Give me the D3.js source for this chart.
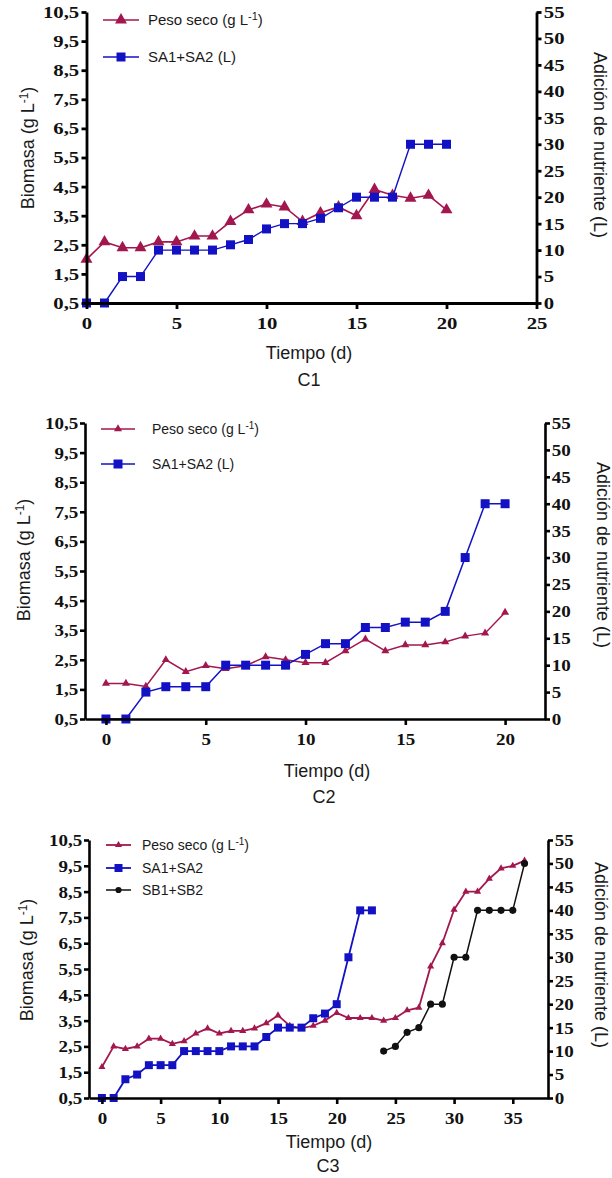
<!doctype html>
<html>
<head>
<meta charset="utf-8">
<script src="https://cdnjs.cloudflare.com/ajax/libs/d3/7.8.5/d3.min.js"></script>
<style>
  body { margin: 0; background: white; }
  svg { display: block; }
  .tick text { font-family: 'Liberation Serif', 'Times New Roman', serif; font-weight: bold; font-size: 17px; fill: #111; }
  .lab { font-family: 'Liberation Sans', Arial, sans-serif; fill: #1a1a1a; }
</style>
</head>
<body>
<script>
// ---- datos ----
const diasC1 = [0,1,2,3,4,5,6,7,8,9,10,11,12,13,14,15,16,17,18,19,20];
const pesoC1 = [2.0,2.6,2.4,2.4,2.6,2.6,2.8,2.8,3.3,3.7,3.9,3.8,3.3,3.6,3.8,3.5,4.4,4.2,4.1,4.2,3.7];
const saC1   = [0,0,5,5,10,10,10,10,11,12,14,15,15,16,18,20,20,20,30,30,30];

const diasC2 = [0,1,2,3,4,5,6,7,8,9,10,11,12,13,14,15,16,17,18,19,20];
const pesoC2 = [1.7,1.7,1.6,2.5,2.1,2.3,2.2,2.3,2.6,2.5,2.4,2.4,2.8,3.2,2.8,3.0,3.0,3.1,3.3,3.4,4.1];
const saC2   = [0,0,5,6,6,6,10,10,10,10,12,14,14,17,17,18,18,20,30,40,40];

const diasPesoC3 = [0,1,2,3,4,5,6,7,8,9,10,11,12,13,14,15,16,17,18,19,20,21,22,23,24,25,26,27,28,29,30,31,32,33,34,35,36];
const pesoC3 = [1.7,2.5,2.4,2.5,2.8,2.8,2.6,2.7,3.0,3.2,3.0,3.1,3.1,3.2,3.4,3.7,3.3,3.2,3.3,3.5,3.8,3.6,3.6,3.6,3.5,3.6,3.9,4.0,5.6,6.5,7.8,8.5,8.5,9.0,9.4,9.5,9.7];
const diasSaC3 = [0,1,2,3,4,5,6,7,8,9,10,11,12,13,14,15,16,17,18,19,20,21,22,23];
const saC3     = [0,0,4,5,7,7,7,10,10,10,10,11,11,11,13,15,15,15,17,18,20,30,40,40];
const diasSbC3 = [24,25,26,27,28,29,30,31,32,33,34,35,36];
const sbC3     = [10,11,14,15,20,20,30,30,40,40,40,40,50];

const ticksBiomasa = [0.5,1.5,2.5,3.5,4.5,5.5,6.5,7.5,8.5,9.5,10.5];
const ticksNutriente = [0,5,10,15,20,25,30,35,40,45,50,55];

const ROJO = '#a3174f';
const AZUL = '#1212c4';
const NEGRO = '#111';

const fmt = d3.formatLocale({decimal: ',', thousands: '.', grouping: [3], currency: ['', '']}).format('.1f');

const svg = d3.select('body').append('svg')
  .attr('width', 612)
  .attr('height', 1178);

function zip(xs, ys) { return xs.map((d, i) => ({x: d, y: ys[i]})); }

function panel(cfg, series, legend) {
  const x = d3.scaleLinear().domain(cfg.xDom).range([cfg.left, cfg.right]);
  const yL = d3.scaleLinear().domain([0.5, 10.5]).range([cfg.bottom, cfg.top]);
  const yR = d3.scaleLinear().domain([0, 55]).range([cfg.bottom, cfg.top]);
  const g = svg.append('g');

  // series
  series.forEach(s => {
    const y = s.axis === 'R' ? yR : yL;
    const line = d3.line().x(d => x(d.x)).y(d => y(d.y));
    g.append('path').datum(s.data)
      .attr('fill', 'none')
      .attr('stroke', s.color)
      .attr('stroke-width', s.lw)
      .attr('d', line);
    g.selectAll(null).data(s.data).enter().append('path')
      .attr('transform', d => `translate(${x(d.x)},${y(d.y)})`)
      .attr('d', d3.symbol(s.sym, s.size))
      .attr('fill', s.color);
  });

  // ejes
  const sw = cfg.axisW;
  const ax = g.append('g').attr('transform', `translate(0,${cfg.bottom})`)
    .call(d3.axisBottom(x).tickValues(cfg.xTicks).tickSize(6).tickSizeOuter(0).tickPadding(4));
  const al = g.append('g').attr('transform', `translate(${cfg.left},0)`)
    .call(d3.axisLeft(yL).tickValues(ticksBiomasa).tickFormat(fmt).tickSize(5).tickSizeOuter(0).tickPadding(1));
  const ar = g.append('g').attr('transform', `translate(${cfg.right},0)`)
    .call(d3.axisRight(yR).tickValues(ticksNutriente).tickSize(5).tickSizeOuter(0).tickPadding(1));
  [ax, al, ar].forEach(a => {
    a.select('.domain').attr('stroke', '#000').attr('stroke-width', sw);
    a.selectAll('.tick line').attr('stroke', '#000').attr('stroke-width', sw);
    a.selectAll('.tick text').attr('transform', `scale(${cfg.sx},1)`);
  });
  ax.selectAll('.tick text').attr('dy', '0.95em');

  // titulos
  const t1 = g.append('text').attr('class', 'lab')
    .attr('transform', `translate(${cfg.bioX},${cfg.bioY}) rotate(-90)`)
    .attr('text-anchor', 'middle').attr('dy', '0.35em')
    .style('font-size', '18px');
  t1.append('tspan').text('Biomasa (g L');
  t1.append('tspan').attr('dy', -6).style('font-size', '12px').text('-1');
  t1.append('tspan').attr('dy', 6).text(')');

  g.append('text').attr('class', 'lab')
    .attr('transform', `translate(${cfg.adX},${cfg.adY}) rotate(90)`)
    .attr('text-anchor', 'middle').attr('dy', '0.35em')
    .style('font-size', '18px')
    .text('Adición de nutriente (L)');

  g.append('text').attr('class', 'lab')
    .attr('x', cfg.tX).attr('y', cfg.tY)
    .attr('text-anchor', 'middle').style('font-size', '18px')
    .text('Tiempo (d)');
  g.append('text').attr('class', 'lab')
    .attr('x', cfg.cX).attr('y', cfg.cY)
    .attr('text-anchor', 'middle').style('font-size', '18px')
    .text(cfg.name);

  // leyenda
  legend.items.forEach((it, i) => {
    const yy = legend.ys[i];
    g.append('line')
      .attr('x1', legend.x1).attr('x2', legend.x2).attr('y1', yy).attr('y2', yy)
      .attr('stroke', it.color).attr('stroke-width', it.lw);
    g.append('path')
      .attr('transform', `translate(${(legend.x1 + legend.x2) / 2},${yy})`)
      .attr('d', d3.symbol(it.sym, it.size))
      .attr('fill', it.color);
    const tx = g.append('text').attr('class', 'lab')
      .attr('x', legend.tx).attr('y', yy).attr('dy', '0.35em')
      .style('font-size', legend.fs + 'px');
    if (it.sup) {
      tx.append('tspan').text(it.label);
      tx.append('tspan').attr('dy', -5).style('font-size', (legend.fs - 4) + 'px').text('-1');
      tx.append('tspan').attr('dy', 5).text(')');
    } else {
      tx.text(it.label);
    }
  });
}

// C1
panel(
  {name: 'C1', left: 86.5, right: 536.5, top: 12, bottom: 303, xDom: [0, 25], xTicks: [0,5,10,15,20,25],
   axisW: 2.8, sx: 1.22, bioX: 28, bioY: 148, adX: 600, adY: 145, tX: 309, tY: 359, cX: 309, cY: 386},
  [
    {data: zip(diasC1, pesoC1), axis: 'L', color: ROJO, sym: d3.symbolTriangle, size: 62, lw: 1.6},
    {data: zip(diasC1, saC1), axis: 'R', color: AZUL, sym: d3.symbolSquare, size: 81, lw: 1.4}
  ],
  {x1: 103, x2: 139, tx: 148, fs: 15, ys: [20, 57], items: [
    {label: 'Peso seco (g L', sup: true, color: ROJO, sym: d3.symbolTriangle, size: 62, lw: 1.6},
    {label: 'SA1+SA2 (L)', color: AZUL, sym: d3.symbolSquare, size: 81, lw: 1.4}
  ]}
);

// C2
panel(
  {name: 'C2', left: 85, right: 545, top: 423, bottom: 719, xDom: [-1.05, 22], xTicks: [0,5,10,15,20],
   axisW: 2.6, sx: 1.12, bioX: 24, bioY: 560, adX: 603, adY: 555, tX: 327, tY: 777, cX: 324, cY: 803},
  [
    {data: zip(diasC2, pesoC2), axis: 'L', color: ROJO, sym: d3.symbolTriangle, size: 28, lw: 1.5},
    {data: zip(diasC2, saC2), axis: 'R', color: AZUL, sym: d3.symbolSquare, size: 81, lw: 1.5}
  ],
  {x1: 101, x2: 135, tx: 152, fs: 14, ys: [429, 464], items: [
    {label: 'Peso seco (g L', sup: true, color: ROJO, sym: d3.symbolTriangle, size: 28, lw: 1.5},
    {label: 'SA1+SA2 (L)', color: AZUL, sym: d3.symbolSquare, size: 81, lw: 1.5}
  ]}
);

// C3
panel(
  {name: 'C3', left: 89, right: 548, top: 840, bottom: 1098, xDom: [-1.1, 38], xTicks: [0,5,10,15,20,25,30,35],
   axisW: 2.6, sx: 1.12, bioX: 27, bioY: 960, adX: 601, adY: 955, tX: 329, tY: 1148, cX: 328, cY: 1172},
  [
    {data: zip(diasPesoC3, pesoC3), axis: 'L', color: ROJO, sym: d3.symbolTriangle, size: 22, lw: 1.8},
    {data: zip(diasSaC3, saC3), axis: 'R', color: AZUL, sym: d3.symbolSquare, size: 64, lw: 1.8},
    {data: zip(diasSbC3, sbC3), axis: 'R', color: NEGRO, sym: d3.symbolCircle, size: 40, lw: 1.5}
  ],
  {x1: 106, x2: 131, tx: 142, fs: 14, ys: [845, 868, 890], items: [
    {label: 'Peso seco (g L', sup: true, color: ROJO, sym: d3.symbolTriangle, size: 22, lw: 1.8},
    {label: 'SA1+SA2', color: AZUL, sym: d3.symbolSquare, size: 64, lw: 1.8},
    {label: 'SB1+SB2', color: NEGRO, sym: d3.symbolCircle, size: 30, lw: 1.5}
  ]}
);
</script>
</body>
</html>
